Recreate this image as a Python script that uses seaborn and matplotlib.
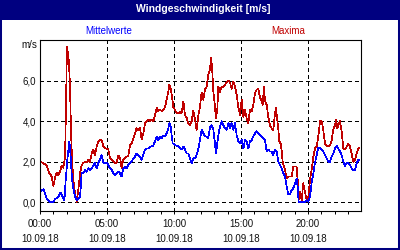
import numpy as np
import pandas as pd
import matplotlib
matplotlib.use("Agg")
import matplotlib.pyplot as plt
from matplotlib.patches import Rectangle
import seaborn as sns

# ---- data (hours since 00:00 on 10.09.18, m/s) ----
max_time = [0.00, 0.25, 0.50, 0.70, 0.87, 1.00, 1.12, 1.24, 1.37, 1.49, 1.62, 1.74, 1.87, 1.94,
            2.01, 2.09, 2.16, 2.24, 2.31, 2.39, 2.49, 2.61, 2.74, 2.86, 2.99, 3.11, 3.23, 3.36,
            3.48, 3.61, 3.73, 3.86, 3.98, 4.10, 4.23, 4.35, 4.48, 4.60, 4.73, 4.85, 4.98, 5.10,
            5.22, 5.35, 5.47, 5.60, 5.72, 5.85, 5.97, 6.09, 6.22, 6.34, 6.47, 6.59, 6.72, 6.84,
            6.97, 7.09, 7.21, 7.34, 7.46, 7.59, 7.71, 7.84, 7.96, 8.09, 8.21, 8.33, 8.46, 8.58,
            8.71, 8.83, 8.96, 9.08, 9.21, 9.33, 9.45, 9.58, 9.65, 9.75, 9.83, 9.95, 10.08, 10.20,
            10.32, 10.45, 10.57, 10.70, 10.82, 10.95, 11.07, 11.19, 11.32, 11.44, 11.57, 11.69,
            11.82, 11.94, 12.06, 12.19, 12.31, 12.44, 12.56, 12.69, 12.76, 12.84, 12.94, 13.06,
            13.13, 13.23, 13.31, 13.43, 13.56, 13.68, 13.81, 13.93, 14.06, 14.18, 14.30, 14.43,
            14.55, 14.68, 14.80, 14.93, 15.05, 15.18, 15.30, 15.42, 15.55, 15.67, 15.80, 15.92,
            16.05, 16.17, 16.29, 16.42, 16.54, 16.62, 16.72, 16.79, 16.92, 17.04, 17.16, 17.29,
            17.41, 17.54, 17.61, 17.71, 17.79, 17.86, 17.96, 18.03, 18.11, 18.21, 18.28, 18.41,
            18.53, 18.66, 18.78, 18.91, 19.03, 19.15, 19.23, 19.30, 19.40, 19.53, 19.65, 19.78,
            19.90, 20.03, 20.15, 20.27, 20.40, 20.52, 20.65, 20.77, 20.90, 21.02, 21.14, 21.27,
            21.39, 21.52, 21.64, 21.77, 21.89, 22.02, 22.09, 22.19, 22.26, 22.39, 22.51, 22.64,
            22.76, 22.89, 23.01, 23.13, 23.26, 23.38, 23.51, 23.63, 23.76, 23.83]
max_vals = [2.00, 1.93, 1.80, 1.43, 1.27, 0.80, 1.20, 1.46, 1.35, 1.50, 1.80, 1.70, 2.25, 4.70,
            7.65, 7.35, 6.90, 5.70, 3.60, 2.10, 1.10, 0.45, 0.03, 0.60, 1.43, 1.84, 1.93, 2.00,
            1.96, 2.10, 2.00, 2.40, 2.60, 2.30, 2.75, 3.00, 3.10, 3.07, 2.75, 2.65, 2.65, 2.60,
            2.20, 2.10, 2.00, 1.93, 1.96, 2.30, 2.20, 1.70, 2.10, 2.20, 2.25, 2.30, 2.80, 2.90,
            3.15, 3.40, 3.65, 3.55, 3.65, 3.10, 3.40, 3.90, 4.00, 4.07, 4.00, 4.07, 4.00, 4.30,
            4.65, 4.50, 4.55, 4.50, 4.55, 4.70, 5.05, 5.45, 5.80, 5.60, 5.30, 4.70, 4.55, 4.40,
            4.40, 4.45, 4.40, 4.97, 4.30, 4.15, 3.90, 3.80, 4.00, 4.50, 4.07, 3.57,
            4.30, 4.70, 5.40, 5.05, 5.55, 5.70, 6.30, 6.55, 7.10, 6.70, 5.45, 4.70,
            4.15, 4.55, 5.70, 5.45, 5.70, 5.70, 5.80, 5.90, 6.00, 5.90, 5.60, 5.95,
            5.70, 5.30, 4.70, 4.30, 5.05, 4.20, 4.55, 4.15, 3.90, 4.55, 4.50, 4.80,
            5.40, 5.55, 5.60, 5.15, 5.00, 4.80, 5.70, 5.00, 4.80, 4.20, 3.80, 3.65,
            3.57, 4.40, 4.65, 4.07, 3.57, 3.00, 2.90, 2.60, 2.00, 1.76, 1.60, 1.18,
            1.27, 1.27, 1.27, 1.76, 1.76, 1.76, 1.10, 0.10, 0.50, 0.10, 0.94, 0.50,
            0.10, 0.28, 1.10, 1.60, 2.25, 2.65, 2.75, 3.25, 4.00, 4.00, 3.57, 2.90,
            2.80, 2.75, 2.80, 3.07, 3.57, 3.80, 4.07, 3.65, 3.80, 4.00, 3.50, 2.65,
            2.60, 2.75, 2.90, 2.75, 2.40, 2.00, 2.10, 2.40, 2.65, 2.70]

mean_time = [0.00, 0.25, 0.37, 0.50, 0.62, 0.75, 1.00, 1.12, 1.37, 1.54, 1.69, 1.82, 1.92, 2.04,
             2.19, 2.29, 2.39, 2.49, 2.61, 2.74, 2.86, 2.99, 3.11, 3.23, 3.36, 3.48, 3.61, 3.73,
             3.86, 3.98, 4.10, 4.23, 4.35, 4.48, 4.60, 4.73, 4.85, 4.98, 5.10, 5.22, 5.35, 5.47,
             5.60, 5.72, 5.85, 5.97, 6.09, 6.22, 6.34, 6.47, 6.59, 6.72, 6.84, 6.97, 7.09, 7.21,
             7.34, 7.46, 7.59, 7.71, 7.84, 7.96, 8.09, 8.21, 8.33, 8.46, 8.58, 8.71, 8.83, 8.96,
             9.08, 9.21, 9.33, 9.45, 9.58, 9.65, 9.75, 9.83, 9.90, 10.00, 10.08, 10.20, 10.32,
             10.45, 10.57, 10.70, 10.82, 10.95, 11.07, 11.19, 11.32, 11.44, 11.57, 11.69, 11.82,
             11.94, 12.06, 12.19, 12.31, 12.44, 12.56, 12.69, 12.81, 12.94, 13.06, 13.13, 13.23,
             13.31, 13.43, 13.56, 13.68, 13.81, 13.93, 14.06, 14.18, 14.30, 14.43, 14.55, 14.68,
             14.80, 14.93, 15.05, 15.18, 15.30, 15.42, 15.55, 15.67, 15.80, 15.92, 16.05, 16.17,
             16.29, 16.42, 16.54, 16.67, 16.79, 16.92, 17.04, 17.16, 17.29, 17.41, 17.54, 17.66,
             17.79, 17.91, 18.03, 18.16, 18.28, 18.41, 18.53, 18.66, 18.78, 18.91, 19.03, 19.15,
             19.23, 19.30, 19.53, 19.78, 19.90, 20.03, 20.15, 20.27, 20.40, 20.52, 20.65, 20.77,
             20.90, 21.02, 21.14, 21.27, 21.39, 21.52, 21.64, 21.77, 21.89, 22.02, 22.14, 22.26,
             22.39, 22.51, 22.64, 22.76, 22.89, 23.01, 23.13, 23.26, 23.38, 23.51, 23.63, 23.76,
             23.83]
mean_vals = [0.53, 0.64, 0.45, 0.20, 0.08, 0.03, 0.03, 0.15, 0.28, 0.48, 0.28, 0.10, 1.10, 2.10,
             3.00, 2.25, 1.10, 0.70, 0.28, 0.10, 0.20, 0.28, 1.43, 1.43, 1.60, 1.50, 1.68, 1.60,
             1.68, 1.80, 1.93, 1.68, 1.93, 2.10, 2.33, 1.96, 1.93, 1.96, 1.84, 1.68, 1.60, 1.43,
             1.35, 1.43, 1.50, 1.43, 1.27, 1.68, 1.76, 1.68, 1.84, 1.93, 2.00, 2.17, 2.25, 2.40,
             2.33, 2.25, 2.10, 2.33, 2.60, 2.65, 2.65, 2.75, 2.75, 2.80, 3.00, 3.25, 3.07, 3.25,
             3.15, 3.30, 3.25, 3.40, 3.65, 3.90, 3.74, 3.30, 2.90, 2.90, 2.80, 2.80, 2.75,
             2.65, 2.60, 2.75, 2.60, 2.40, 2.40, 2.17, 1.93, 2.17, 2.17, 2.33, 2.65,
             3.07, 3.57, 3.40, 3.25, 3.25, 3.15, 3.74, 3.80, 3.57, 2.90, 2.40, 2.90,
             3.30, 3.74, 4.00, 3.80, 3.65, 3.57, 3.90, 3.65, 3.90, 3.57, 3.90, 3.30,
             3.00, 2.90, 3.07, 2.65, 3.07, 3.00, 2.65, 3.00, 3.07, 3.25, 3.40, 3.50,
             3.40, 3.30, 3.25, 3.15, 3.07, 2.50, 2.60, 2.50, 2.50, 2.33, 2.60, 2.50,
             2.00, 1.84, 1.68, 1.43, 1.27, 0.77, 0.41, 0.41, 0.60, 0.70, 0.94, 1.18,
             0.77, 0.03, 0.03, 0.03, 0.10, 0.03, 0.28, 0.94, 1.43, 1.93, 2.33, 2.70,
             2.70, 2.60, 2.50, 2.33, 2.17, 2.00, 2.00, 2.25, 2.40, 2.65, 2.78, 2.65,
             2.50, 2.33, 2.00, 1.80, 1.93, 1.93, 1.84, 1.68, 1.60, 1.60, 1.93, 2.10,
             2.10]

series_names = ["Maxima", "Mittelwerte"]
x_major = [0, 5, 10, 15, 20]
x_labels = ["00:00\n10.09.18", "05:00\n10.09.18", "10:00\n10.09.18",
            "15:00\n10.09.18", "20:00\n10.09.18"]
y_major = [0, 2, 4, 6]
y_labels = ["0,0", "2,0", "4,0", "6,0"]
title = "Windgeschwindigkeit [m/s]"
unit = "m/s"

NAVY = "#000080"
RED = "#c00000"
BLUE = "#0000ff"

df = pd.concat([
    pd.DataFrame({"t": max_time, "v": max_vals, "s": series_names[0]}),
    pd.DataFrame({"t": mean_time, "v": mean_vals, "s": series_names[1]}),
], ignore_index=True)

sns.set_theme(style="white")
plt.rcParams["font.family"] = ["Liberation Sans", "DejaVu Sans"]

W, H = 400, 250
fig = plt.figure(figsize=(4, 2.5), dpi=100)
fig.patch.set_facecolor("white")

def fx(px):
    return px / W

def fy(py):
    return 1 - py / H

ax = fig.add_axes([fx(40), fy(210.7), (360.5 - 40) / W, (210.7 - 40) / H])
ax.set_facecolor("white")

sns.lineplot(data=df, x="t", y="v", hue="s", palette={series_names[0]: RED, series_names[1]: BLUE},
             hue_order=series_names, estimator=None, sort=False, legend=False, ax=ax,
             linewidth=0.5, antialiased=False)

ax.set_xlim(0, 23.92)
ax.set_ylim(-0.415, 8.0)
ax.set_xlabel("")
ax.set_ylabel("")

ax.set_xticks(x_major)
ax.set_xticklabels(x_labels, fontsize=7, color="#111111", linespacing=1.55)
ax.set_xticks(np.arange(0, 24, 1), minor=True)
ax.set_yticks(y_major)
ax.set_yticklabels(y_labels, fontsize=7, color="#111111")

ax.tick_params(axis="x", which="both", direction="out", length=2.2, width=0.72, color="black",
               pad=4, bottom=True)
ax.tick_params(axis="y", which="both", length=0, pad=3)

for v in y_major:
    ax.axhline(v, color="black", lw=0.72, ls=(0, (4, 3)), antialiased=False, zorder=0.5)
for v in x_major[1:]:
    ax.axvline(v, color="black", lw=0.72, ls=(0, (4, 3)), antialiased=False, zorder=0.5)

for sp in ax.spines.values():
    sp.set_visible(True)
    sp.set_color("black")
    sp.set_linewidth(0.8)

# title bar and frame
fig.patches.append(Rectangle((0, fy(19.5)), 1, 19.5 / H, transform=fig.transFigure,
                             facecolor=NAVY, edgecolor="none", zorder=0))
fig.patches.append(Rectangle((0, 0), 1, 1, transform=fig.transFigure, fill=False,
                             edgecolor=NAVY, lw=2.9, zorder=5))
fig.text(fx(203.5), fy(9.5), title, color="white", fontsize=7.5, fontweight="bold",
         ha="center", va="center")
fig.text(fx(109), fy(31), series_names[1], color=BLUE, fontsize=7, ha="center", va="center")
fig.text(fx(288), fy(31), series_names[0], color=RED, fontsize=7, ha="center", va="center")
fig.text(fx(29.5), fy(45), unit, color="#111111", fontsize=7, ha="center", va="center")

fig.savefig("out.png", dpi=100)
